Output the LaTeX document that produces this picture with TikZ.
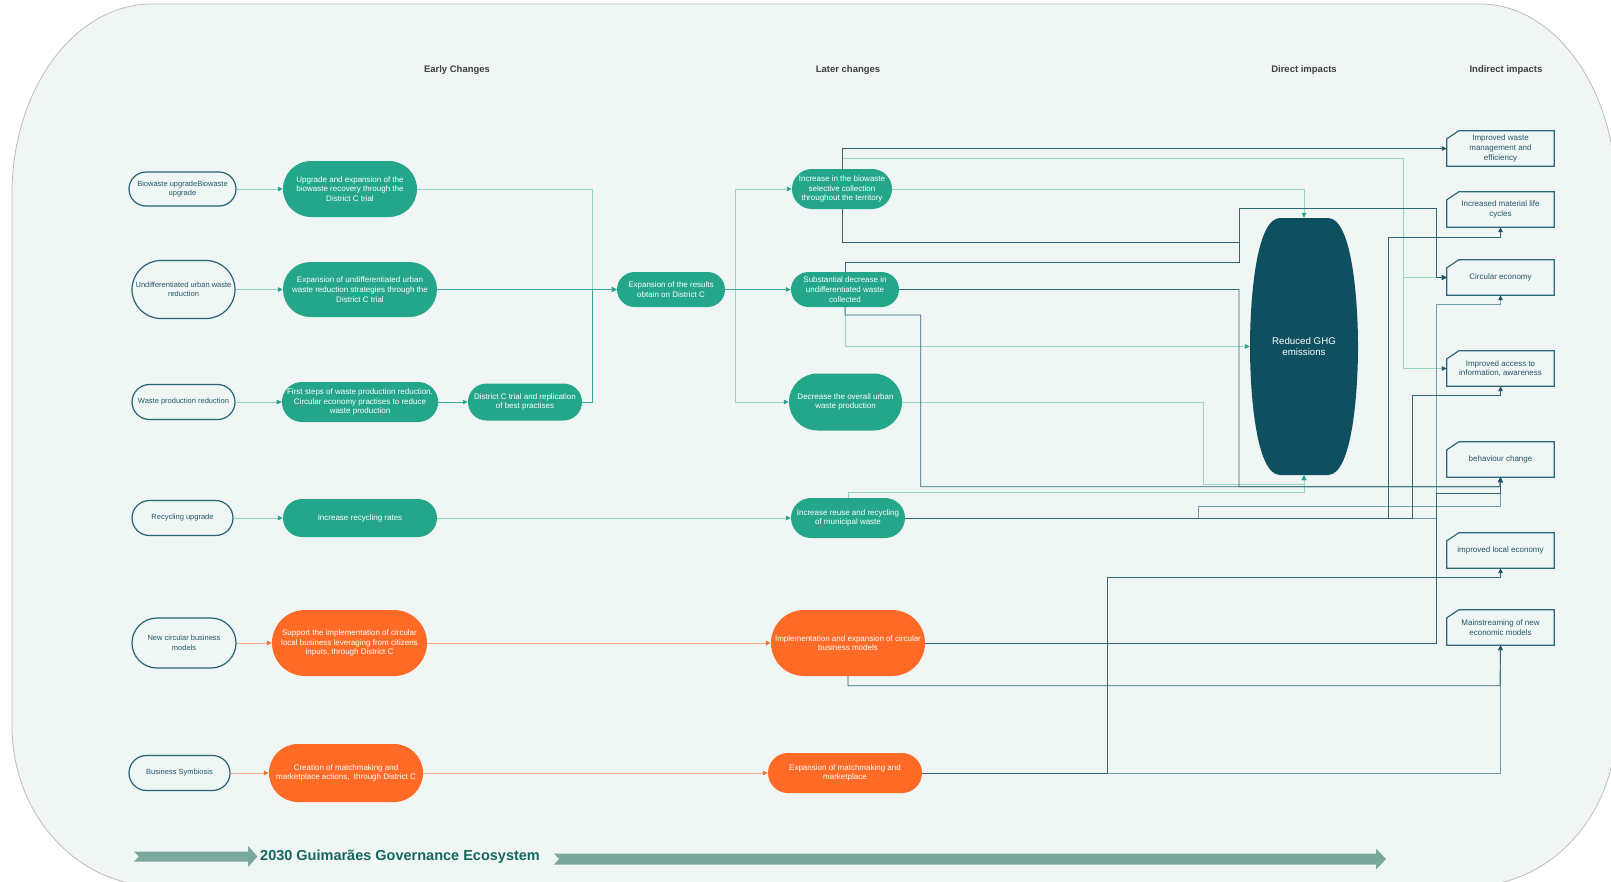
\documentclass[tikz,border=0pt]{standalone}
\usepackage{fontspec}
\setmainfont{Liberation Sans}
\usetikzlibrary{shapes.misc,arrows.meta}
\definecolor{bgfill}{RGB}{240,246,244}
\definecolor{bgline}{RGB}{185,190,188}
\definecolor{grn}{RGB}{36,166,138}
\definecolor{org}{RGB}{255,106,38}
\definecolor{ghgc}{RGB}{14,80,96}
\definecolor{inpb}{RGB}{40,98,116}
\definecolor{txtd}{RGB}{34,88,104}
\definecolor{lnD}{RGB}{46,104,120}
\definecolor{lnM}{RGB}{112,158,168}
\definecolor{lnL}{RGB}{150,212,196}
\definecolor{lnT}{RGB}{58,168,146}
\definecolor{lnO}{RGB}{249,172,138}
\definecolor{tipT}{RGB}{36,162,138}
\definecolor{tipO}{RGB}{255,106,38}
\definecolor{tipD}{RGB}{30,84,100}
\definecolor{barc}{RGB}{123,168,156}
\definecolor{hdr}{RGB}{64,64,64}
\definecolor{ttl}{RGB}{22,102,96}
\begin{document}
\begin{tikzpicture}[x=1pt,y=-1pt,
  inp/.style={rounded rectangle, draw=inpb, line width=1.2pt, fill=bgfill, text=txtd, inner sep=0pt, align=center, font=\fontsize{7.5}{9.5}\selectfont},
  grnbox/.style={rounded rectangle, fill=grn, text=white, inner sep=0pt, align=center, font=\fontsize{8}{9.7}\selectfont},
  orgbox/.style={grnbox, fill=org},
  imp/.style={rectangle, inner sep=0pt, minimum width=107pt, minimum height=35pt, text=txtd, align=center, font=\fontsize{8}{9.7}\selectfont},
  impb/.style={draw=lnD, line width=1.2pt},
  hdrt/.style={font=\fontsize{9.5}{11}\selectfont\bfseries, text=hdr},
  cn/.style={line width=0.9pt},
  eL/.style={cn, draw=lnL, -{Triangle[length=5pt,width=4.5pt,color=tipT]}},
  eLd/.style={cn, draw=lnL, -{Triangle[length=5pt,width=4.5pt,color=tipD]}},
  eT/.style={cn, draw=lnT, -{Triangle[length=5pt,width=4.5pt,color=tipT]}},
  eO/.style={cn, draw=lnO, -{Triangle[length=5pt,width=4.5pt,color=tipO]}},
  eD/.style={cn, draw=lnD, -{Triangle[length=5pt,width=4.5pt,color=tipD]}},
  eM/.style={cn, draw=lnM, -{Triangle[length=5pt,width=4.5pt,color=tipD]}},
]
\useasboundingbox (0,0) rectangle (1611,881);
\path[draw=bgline, line width=0.8pt, fill=bgfill]
  (152,4) -- (1480,4) arc[start angle=90, end angle=0, x radius=136pt, y radius=190pt]
  -- (1616,726) arc[start angle=0, end angle=-90, x radius=145pt, y radius=160pt]
  -- (157,886) arc[start angle=270, end angle=180, x radius=145pt, y radius=160pt]
  -- (12,194) arc[start angle=180, end angle=90, x radius=140pt, y radius=190pt] -- cycle;

% headers
\node[hdrt] (h1) at (457,70) {Early Changes};
\node[hdrt] (h2) at (848,70) {Later changes};
\node[hdrt] (h3) at (1304,70) {Direct impacts};
\node[hdrt] (h4) at (1506,70) {Indirect impacts};

% input nodes
\node[inp, minimum width=107pt, minimum height=34pt] (in1) at (182.5,189) {Biowaste upgradeBiowaste\\upgrade};
\node[inp, minimum width=103pt, minimum height=58pt] (in2) at (183.5,289.5) {Undifferentiated urban waste\\reduction};
\node[inp, minimum width=103pt, minimum height=35pt] (in3) at (183.5,402) {Waste production reduction};
\node[inp, minimum width=101pt, minimum height=35pt] (in4) at (182.5,518) {Recycling upgrade};
\node[inp, minimum width=104pt, minimum height=50pt] (in5) at (184,643) {New circular business\\models};
\node[inp, minimum width=101pt, minimum height=35pt] (in6) at (179.5,773) {Business Symbiosis};

% early changes
\node[grnbox, minimum width=134pt, minimum height=56pt] (g1) at (350,189) {Upgrade and expansion of the\\biowaste recovery through the\\District C trial};
\node[grnbox, minimum width=154pt, minimum height=55pt] (g2) at (360,289.5) {Expansion of undifferentiated urban\\waste reduction strategies through the\\District C trial};
\node[grnbox, minimum width=154pt, minimum height=40pt] (g3) at (360,402) {First steps of waste production reduction.\\Circular economy practises to reduce\\waste production};
\node[grnbox, minimum width=114pt, minimum height=37pt] (dct) at (525,402) {District C trial and replication\\of best practises};
\node[grnbox, minimum width=154pt, minimum height=38pt] (g4) at (360,518) {Increase recycling rates};
\node[orgbox, minimum width=155pt, minimum height=66pt] (o1) at (349.5,643) {Support the implementation of circular\\local business leveraging from citizens\\inputs, through District C};
\node[orgbox, minimum width=154pt, minimum height=58pt] (o2) at (346,773) {Creation of matchmaking and\\marketplace actions,\ \ through District C};
\node[grnbox, minimum width=108pt, minimum height=35pt] (ex) at (671,289.5) {Expansion of the results\\obtain on District C};

% later changes
\node[grnbox, minimum width=100pt, minimum height=40pt] (b1) at (842,189) {Increase in the biowaste\\selective collection\\throughout the territory};
\node[grnbox, minimum width=108pt, minimum height=35pt] (b2) at (845,289.5) {Substantial decrease in\\undifferentiated waste\\collected};
\node[grnbox, minimum width=113pt, minimum height=57pt] (b3) at (845.5,402) {Decrease the overall urban\\waste production};
\node[grnbox, minimum width=114pt, minimum height=40pt] (b4) at (848,518) {Increase reuse and recycling\\of municipal waste};
\node[orgbox, minimum width=154pt, minimum height=66pt] (b5) at (848,643) {Implementation and expansion of circular\\business models};
\node[orgbox, minimum width=154pt, minimum height=40pt] (b6) at (845,773) {Expansion of matchmaking and\\marketplace};

% GHG barrel
\fill[ghgc] (1280,218) -- (1328,218) .. controls (1352,218) and (1358,300) .. (1358,346.5) .. controls (1358,393) and (1352,475) .. (1328,475) -- (1280,475) .. controls (1256,475) and (1250,393) .. (1250,346.5) .. controls (1250,300) and (1256,218) .. (1280,218) -- cycle;
\node[rectangle, inner sep=0pt, minimum width=108pt, minimum height=257pt, text=white, align=center, font=\fontsize{9.7}{11.7}\selectfont] (ghg) at (1304,346.5) {Reduced GHG\\emissions};

% indirect impacts
\node[imp] (i1) at (1500.5,148.5) {Improved waste\\management and\\efficiency};
\node[imp] (i2) at (1500.5,209.5) {Increased material life\\cycles};
\node[imp] (i3) at (1500.5,277.5) {Circular economy};
\node[imp] (i4) at (1500.5,368.5) {Improved access to\\information, awareness};
\node[imp] (i5) at (1500.5,459.5) {behaviour change};
\node[imp] (i6) at (1500.5,550.5) {improved local economy};
\node[imp] (i7) at (1500.5,627.5) {Mainstreaming of new\\economic models};
\foreach \n in {i1,i2,i3,i4,i5,i6,i7} {
  \draw[impb] (\n.south west) -- (\n.south east) -- (\n.north east) -- ([xshift=12pt]\n.north west) -- ([yshift=-8pt]\n.north west) -- cycle;
}

% left connectors
\draw[eL] (in1.east) -- (g1.west);
\draw[eL] (in2.east) -- (g2.west);
\draw[eL] (in3.east) -- (g3.west);
\draw[eT] (g3.east) -- (dct.west);
\draw[eL] (in4.east) -- (g4.west);
\draw[eO] (in5.east) -- (o1.west);
\draw[eO] (in6.east) -- (o2.west);
\draw[eL] (g1.east) -- (592,189) -- (592,289.5) -- (ex.west);
\draw[eT] (dct.east) -- (592,402) -- (592,289.5) -- (ex.west);
\draw[eT] (g2.east) -- (ex.west);
\draw[eL] (ex.east) -- (735,289.5) |- (b1.west);
\draw[eL] (ex.east) -- (735,289.5) |- (b3.west);
\draw[eT] (ex.east) -- (b2.west);
\draw[eL] (g4.east) -- (b4.west);
\draw[eO] (o1.east) -- (b5.west);
\draw[eO] (o2.east) -- (b6.west);

% right connectors (light first)
\draw[eL] (b1.east) -| (ghg.north);
\draw[eLd] (b1.north) |- (1403,158) |- (i4.west);
\draw[eLd] (b1.north) |- (1403,158) |- (i3.west);
\draw[eL] (b2.south) |- (ghg.west);
\draw[eL] (b3.east) -| (1203,484) -| (ghg.south);
\draw[eL] (b4.north) |- (1304,492.7) -- (ghg.south);
\draw[eM] (b4.east) -| (1198,506.7) -| (i5.south);
\draw[eM] (b4.east) -| (1436,304) -| (i3.south);
\draw[eM] (b6.east) -| (i7.south);
\draw[eD] (b1.north) |- (i1.west);
\draw[eD] (b1.south) |- (1239,242) |- (1436,208) |- (i3.west);
\draw[eD] (b2.north) |- (1239,262) |- (1436,208) |- (i3.west);
\draw[eD] (b2.east) -- (1239,289.5) |- (1500,486.7) -- (i5.south);
\draw[eD] (b2.south) |- (920.7,315) |- (1500,486.7) -- (i5.south);
\draw[eD] (b4.east) -| (1388,237) -| (i2.south);
\draw[eD] (b4.east) -| (1412,395) -| (i4.south);
\draw[eD] (b5.east) -| (1436,493) -| (i5.south);
\draw[eD] (b5.south) |- (1500,685.7) -- (i7.south);
\draw[eD] (b6.east) -| (1107,577.7) -| (i6.south);

% bottom bar
\fill[barc] (134,851.5) -- (248,851.5) -- (248,846) -- (257.5,856.5) -- (248,867) -- (248,861.5) -- (134,861.5) -- (139,856.5) -- cycle;
\fill[barc] (554,853.5) -- (1376,853.5) -- (1376,848.5) -- (1386,859) -- (1376,869.5) -- (1376,864.5) -- (554,864.5) -- (559,859) -- cycle;
\node[font=\fontsize{14.5}{16}\selectfont\bfseries, text=ttl, anchor=west, inner sep=0pt] (title) at (260,857) {2030 Guimarães Governance Ecosystem};
\end{tikzpicture}
\end{document}
